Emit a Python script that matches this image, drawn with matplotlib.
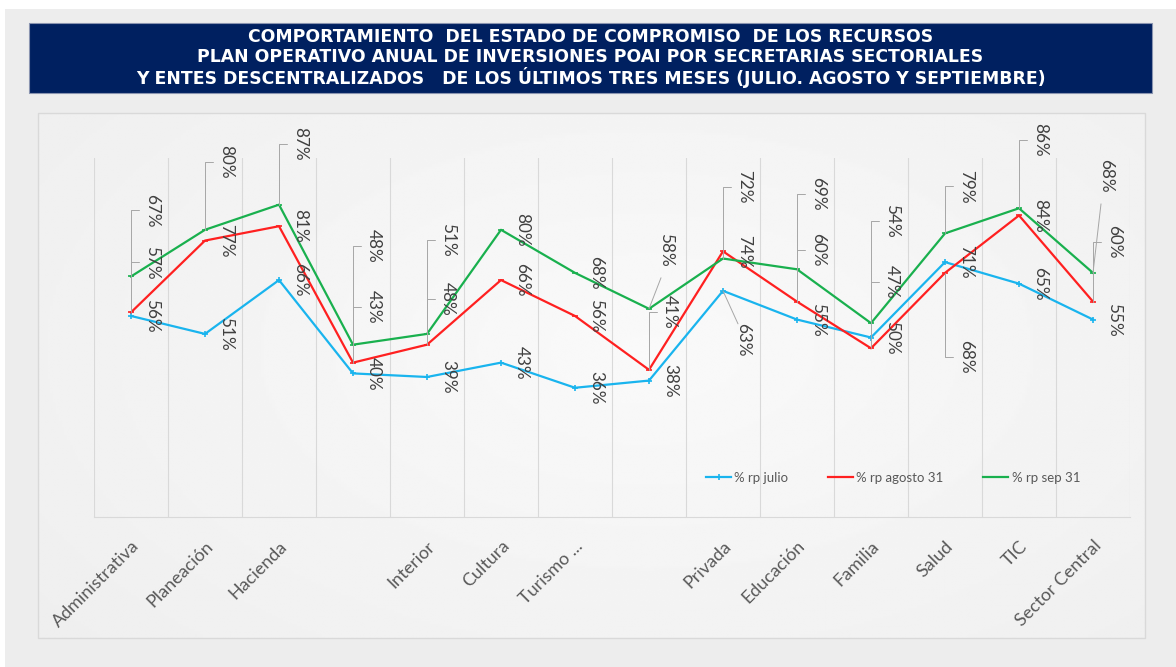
import numpy as np
import matplotlib
matplotlib.use("Agg")
from matplotlib import pyplot as plt
from matplotlib.patches import Rectangle

# data
categorias = ["Administrativa", "Planeación", "Hacienda", "", "Interior", "Cultura",
              "Turismo ...", "", "Privada", "Educación", "Familia", "Salud", "TIC",
              "Sector Central"]
rp_julio = [0.56, 0.51, 0.66, 0.40, 0.39, 0.43, 0.36, 0.38, 0.63, 0.55, 0.50, 0.71, 0.65, 0.55]
rp_agosto = [0.57, 0.77, 0.81, 0.43, 0.48, 0.66, 0.56, 0.41, 0.74, 0.60, 0.47, 0.68, 0.84, 0.60]
rp_sep = [0.67, 0.80, 0.87, 0.48, 0.51, 0.80, 0.68, 0.58, 0.72, 0.69, 0.54, 0.79, 0.86, 0.68]
series_names = ["% rp julio", "% rp agosto 31", "% rp sep 31"]
titulo = ["COMPORTAMIENTO  DEL ESTADO DE COMPROMISO  DE LOS RECURSOS",
          "PLAN OPERATIVO ANUAL DE INVERSIONES POAI POR SECRETARIAS SECTORIALES",
          "Y ENTES DESCENTRALIZADOS   DE LOS ÚLTIMOS TRES MESES (JULIO. AGOSTO Y SEPTIEMBRE)"]

# label placement (pixels, vertical offset of label centre from the point)
dy_julio = [0, 0, 0, 0, 0, 0, 0, 0, -49, 0, 0, 0, 0, 0]
dy_agosto = [50, 0, 0, 56, 46, 0, 0, 58, 0, 52, 66, -84, 0, 60]
dy_sep = [66, 68, 61, 99, 94, 0, 0, 59, 72, 75, 102, 47, 68, 97]
# labels joined with a straight (diagonal) leader: (series, index) -> x offset
diagonal = {(0, 8): 20, (2, 7): 17, (2, 13): 13}

W, H = 1176, 667
fig = plt.figure(figsize=(W / 100, H / 100), dpi=100)
fig.patch.set_facecolor("#ededed")

# background in pixel coordinates
bg = fig.add_axes([0, 0, 1, 1], zorder=-5)
bg.set_xlim(0, W)
bg.set_ylim(H, 0)
bg.axis("off")
bg.add_patch(Rectangle((0, 0), W, 9, color="white", lw=0))
bg.add_patch(Rectangle((0, 0), 5, H, color="white", lw=0))
yy, xx = np.mgrid[0:1:200j, 0:1:400j]
r = np.sqrt(((xx - 0.55) / 0.75) ** 2 + ((yy - 0.45) / 0.9) ** 2)
grad = np.clip(0.978 - 0.045 * r, 0.92, 0.98)
bg.imshow(grad, cmap="gray", vmin=0, vmax=1, extent=(38, 1145, 638, 113),
          aspect="auto", interpolation="bilinear")
bg.add_patch(Rectangle((38, 113), 1107, 525, fill=False, ec="#d9d9d9", lw=1))
bg.add_patch(Rectangle((29, 23), 1123, 70, fc="#002060", ec="#8a94b0", lw=0.8))
for k, line in enumerate(titulo):
    bg.text(590.5, 37 + k * 20.3, line, color="white", fontsize=12.4,
            fontweight="bold", family="DejaVu Sans", ha="center", va="center")

# main plot
ax = fig.add_axes([94 / W, 1 - 517 / H, (1130 - 94) / W, (517 - 158) / H])
ax.patch.set_alpha(0)
x = np.arange(len(categorias))
ax.set_xlim(-0.5, len(categorias) - 0.5)
ax.set_ylim(0, 1)

colores = ["#19b4ee", "#ff2020", "#19b04e"]
marcadores = ["+", "_", "_"]
todas = [rp_julio, rp_agosto, rp_sep]
dys = [dy_julio, dy_agosto, dy_sep]
for s, vals in enumerate(todas):
    ax.plot(x, vals, color=colores[s], lw=1.6, marker=marcadores[s], ms=5,
            mew=1.2, label=series_names[s], zorder=3)

for s, vals in enumerate(todas):
    for i, v in enumerate(vals):
        dy = dys[s][i]
        dx = diagonal.get((s, i), 21)
        ax.annotate(f"{v:.0%}", xy=(i, v), xytext=(dx, dy),
                    textcoords="offset pixels", rotation=270, ha="center",
                    va="center", fontsize=12.3, family="Lato", color="#404040",
                    zorder=4)
        if (s, i) in diagonal:
            tip = (dx - 5, dy - 28 if dy > 0 else dy + 16)
            ax.annotate("", xy=(i, v), xytext=tip, textcoords="offset pixels",
                        arrowprops=dict(arrowstyle="-", color="#a6a6a6", lw=0.7,
                                        shrinkA=0, shrinkB=0))
        elif abs(dy) > 20:
            ax.annotate("", xy=(i, v), xytext=(8, dy), textcoords="offset pixels",
                        arrowprops=dict(arrowstyle="-", color="#a6a6a6", lw=0.7,
                                        shrinkA=0, shrinkB=0,
                                        connectionstyle="angle,angleA=0,angleB=90,rad=0"))

ax.set_xticks(x)
ax.set_xticklabels(categorias, rotation=45, ha="right", va="top",
                   rotation_mode="anchor", fontsize=13, family="Lato",
                   color="#595959")
ax.set_xticks(np.arange(-0.5, len(categorias)), minor=True)
ax.tick_params(axis="x", which="both", length=0, pad=15)
ax.set_yticks([])
ax.grid(True, which="minor", axis="x", color="#d9d9d9", lw=0.8)
for side in ["top", "left", "right"]:
    ax.spines[side].set_visible(False)
ax.spines["bottom"].set_color("#d9d9d9")

leg = ax.legend(loc="center left", bbox_to_anchor=(706 / W, 1 - 478 / H),
                bbox_transform=fig.transFigure, ncol=3, frameon=False,
                borderpad=0, borderaxespad=0, handlelength=1.9,
                handletextpad=0.25, columnspacing=3.0,
                prop={"family": "Lato", "size": 9.5})
for t in leg.get_texts():
    t.set_color("#595959")

fig.savefig("out.png", dpi=100)
